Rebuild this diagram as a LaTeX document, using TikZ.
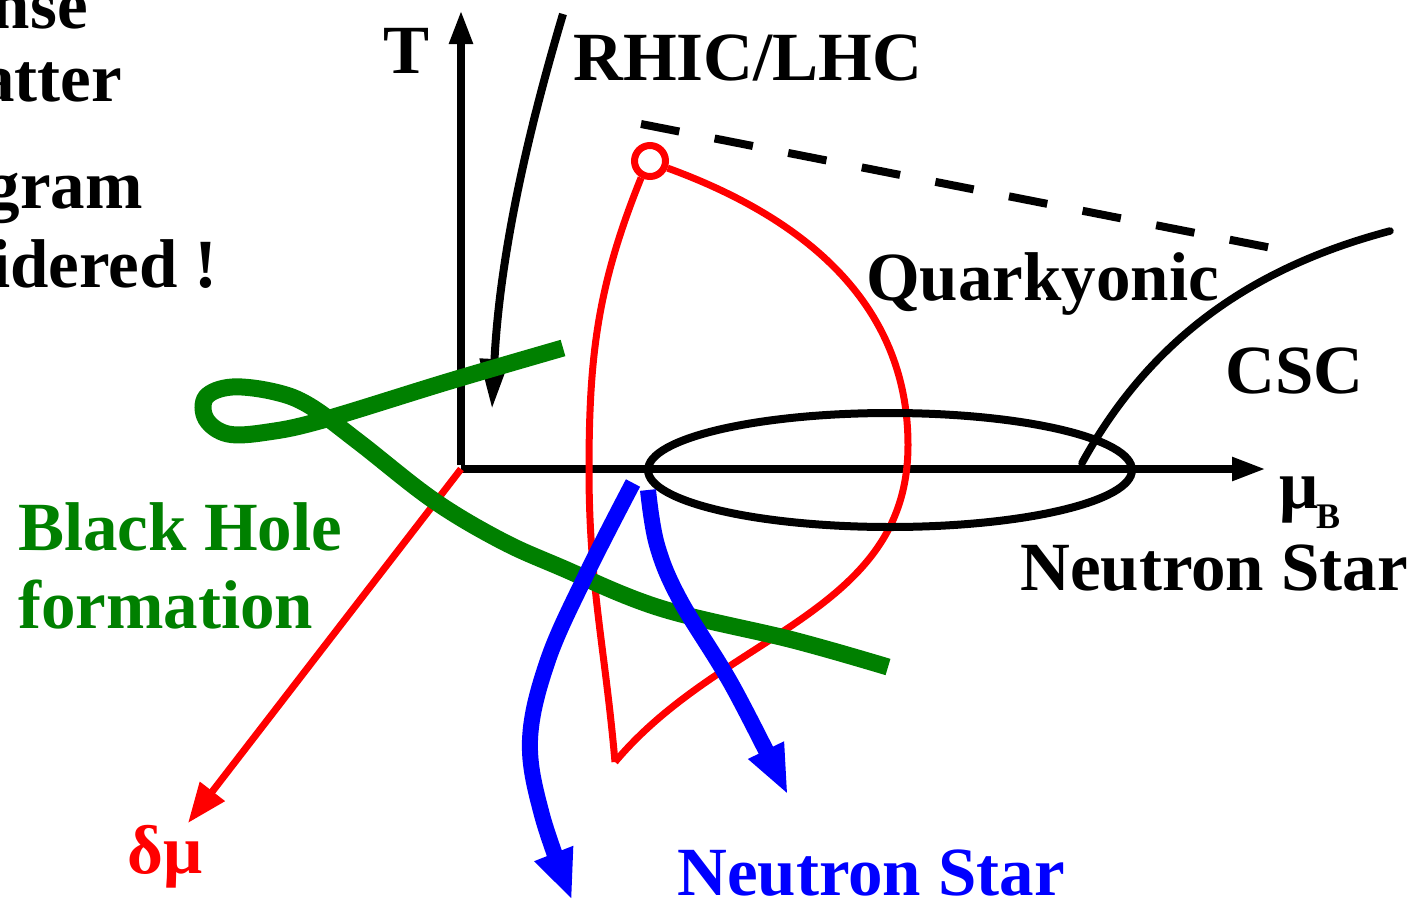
\documentclass[tikz,border=0pt]{standalone}
\usepackage{fontspec}
\setmainfont{Liberation Serif}
\usetikzlibrary{arrows.meta}
\definecolor{dkgreen}{RGB}{0,128,0}
\begin{document}
\begin{tikzpicture}[x=1pt,y=-1pt,
  lbl/.style={font=\fontsize{69}{80}\selectfont\bfseries, inner sep=0pt, anchor=base west},
  lblr/.style={lbl, anchor=base east},
  axis/.style={line width=8pt},
  redline/.style={draw=red, line width=7pt},
  blueline/.style={draw=blue, line width=16pt},
  greenline/.style={draw=dkgreen, line width=17pt}]
\useasboundingbox (0,0) rectangle (1428,900);
\clip (0,0) rectangle (1428,900);

% clipped text at upper left
\node[lblr] (t1) at (88,28) {nse};
\node[lblr] (t2) at (122,101) {atter};
\node[lblr] (t3) at (143,208) {gram};
\node[lblr] (t4) at (218,287) {idered !};

% axes
\coordinate (O) at (461,469);
\coordinate (Tbase) at (461,465);
\coordinate (Ttip) at (461,10);
\coordinate (Mtip) at (1266,469);
\coordinate (Dtip) at (188,823);
\draw[axis, -{Triangle[length=34pt,width=22pt]}] (Tbase) -- (Ttip);
\draw[axis, -{Triangle[length=34pt,width=22pt]}] (O) -- (Mtip);
\draw[redline, -{Triangle[length=40pt,width=30pt]}] (O) -- (Dtip);

\node[lbl] (T) at (383,73) {T};
\node[lbl] (mu) at (1279,508) {μ};
\node[font=\fontsize{36}{40}\selectfont\bfseries, inner sep=0pt, anchor=base west] (B) at (1316,528) {B};
\node[lbl, text=red] (dmu) at (127,873) {δμ};

% RHIC/LHC trajectory
\coordinate (Rs) at (563,14);
\coordinate (Re) at (492,409);
\draw[line width=8pt, -{Triangle[length=50pt,width=28pt]}] (Rs) .. controls (530,125) and (500,250) .. (Re);
\node[lbl] (rhic) at (573,80) {RHIC/LHC};

% dashed line
\coordinate (Ds) at (641,124);
\coordinate (De) at (1282,250);
\draw[line width=8pt, dash pattern=on 39pt off 36pt] (Ds) -- (De);

% red critical point and boundary
\node[circle, draw=red, line width=7pt, minimum size=31pt, inner sep=0pt] (cp) at (650,161) {};
\coordinate (Rtip) at (615,762);
\draw[redline] (cp.-22) to[out=-20,in=90] (908,445) to[out=-90,in=50] (Rtip);
\draw[redline] (cp.-118) to[out=-112,in=90] (589,470) to[out=-90,in=95] (Rtip);

% ellipse
\draw[line width=8pt] (890,470) ellipse [x radius=242, y radius=57];

% CSC line
\coordinate (Cs) at (1082,463);
\coordinate (Ce) at (1390,231);
\draw[line width=7.5pt, line cap=round] (Cs) .. controls (1150,340) and (1250,268) .. (Ce);

\node[lbl] (quark) at (866,300) {Quarkyonic};
\node[lbl] (csc) at (1225,393) {CSC};
\node[lbl] (ns1) at (1020,590) {Neutron Star};

% green black-hole trajectory
\draw[greenline] plot[smooth, tension=0.6] coordinates {(563,348) (450,381) (323,420) (268,432) (228,434) (206,419) (206,397) (232,387) (275,392) (310,406) (360,443) (433,500) (500,540) (560,567) (660,608) (793,640) (888,667)};
\node[lbl, text=dkgreen] (bh1) at (18,550) {Black Hole};
\node[lbl, text=dkgreen] (bh2) at (18,628) {formation};

% blue neutron star arrows
\draw[blueline, -{Triangle[length=50pt,width=38pt]}] plot[smooth, tension=0.6] coordinates {(633,483) (587,573) (548,660) (530,740) (542,815) (572,900)};
\draw[blueline, -{Triangle[length=50pt,width=36pt]}] plot[smooth, tension=0.6] coordinates {(648,490) (657,545) (680,600) (733,687) (788,795)};
\node[lbl, text=blue] (ns2) at (677,895) {Neutron Star};
\end{tikzpicture}
\end{document}
